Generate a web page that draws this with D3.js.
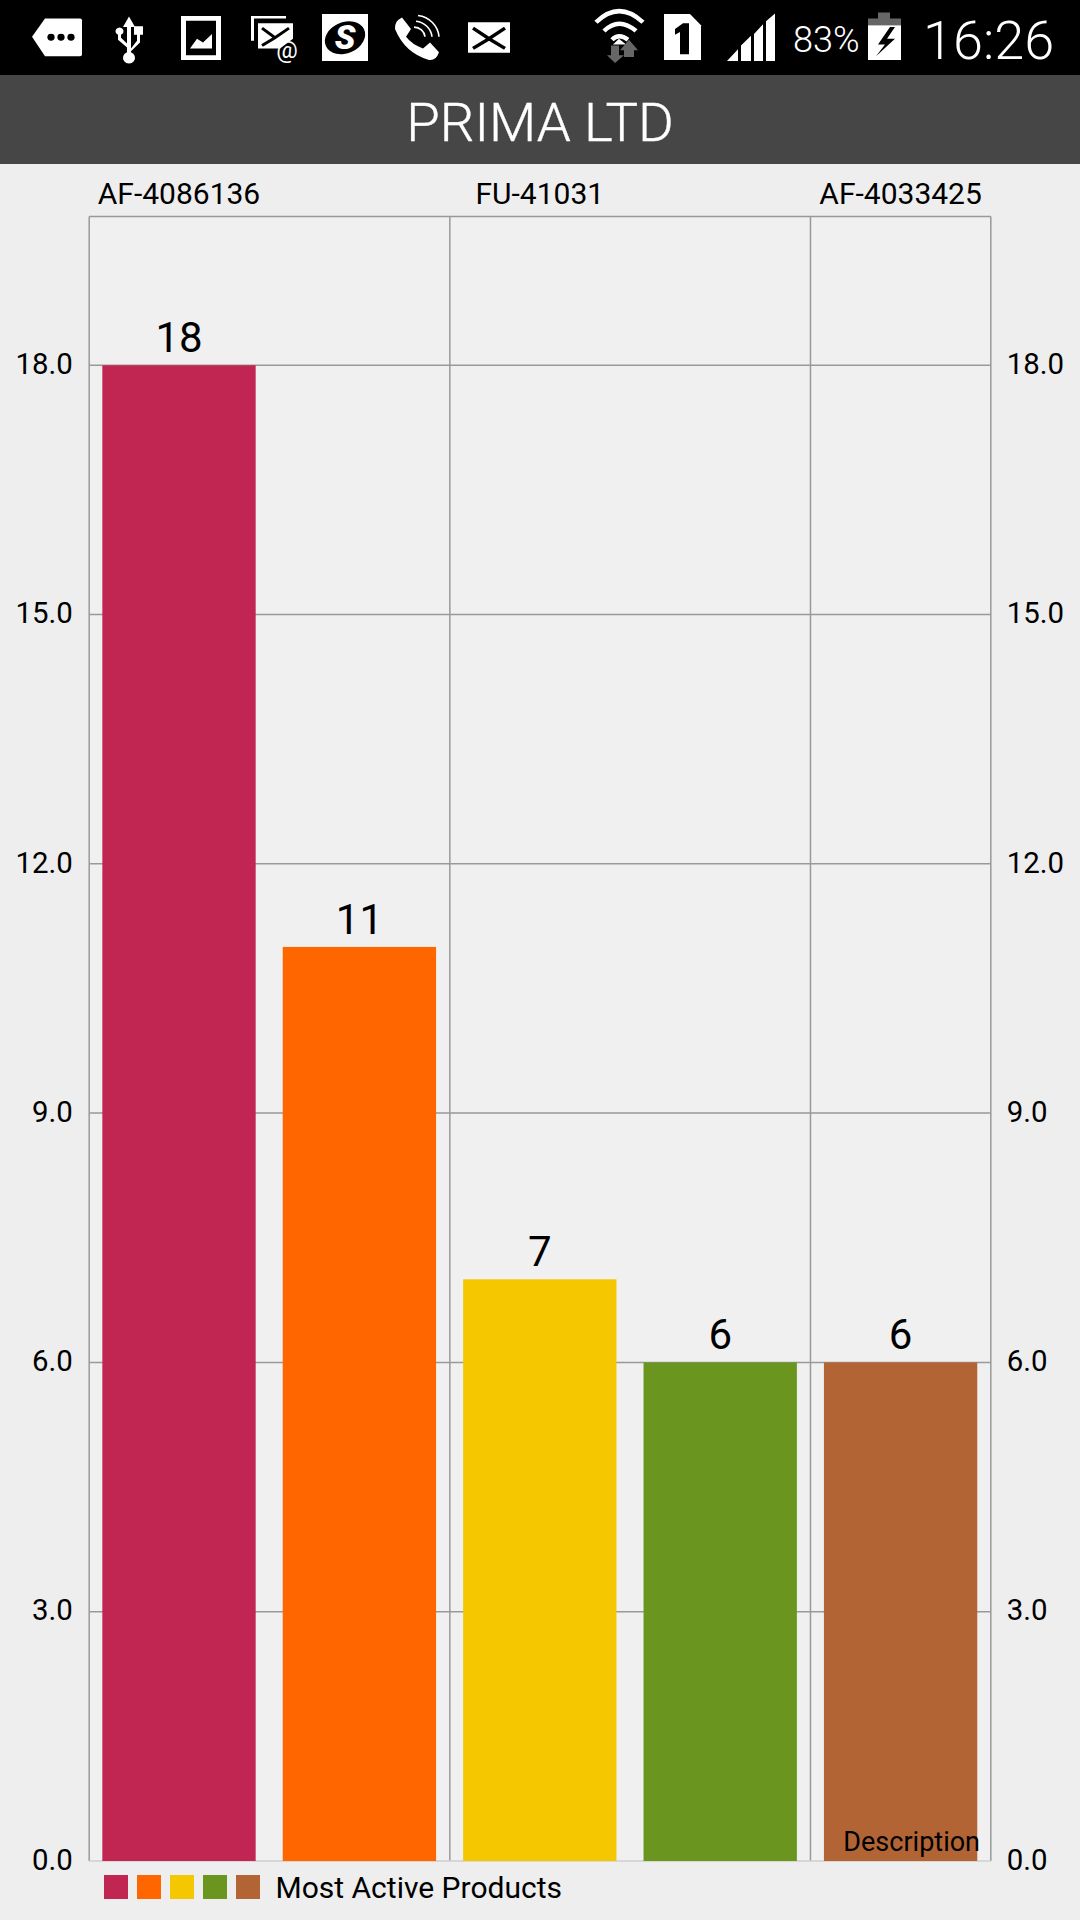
<!DOCTYPE html>
<html><head><meta charset="utf-8">
<script src="https://cdn.jsdelivr.net/npm/d3@7"></script>
<style>
html,body{margin:0;padding:0;background:#eeeeee}
svg{display:block}
text{font-family:Roboto,sans-serif}
</style></head><body>
<svg id="c" width="1080" height="1920"></svg>
<script>
const categories = ["AF-4086136", "item 2", "FU-41031", "item 4", "AF-4033425"];
const shownLabels = ["AF-4086136", "FU-41031", "AF-4033425"];
const values = [18, 11, 7, 6, 6];
const colors = ["#c12552", "#ff6600", "#f5c700", "#6a961f", "#b36435"];
const yTicks = [0, 3, 6, 9, 12, 15, 18];
const title = "PRIMA LTD";
const legendLabel = "Most Active Products";
const descriptionLabel = "Description";

const svg = d3.select("#c");
const plot = {l: 89.2, r: 990.8, t: 216.5, b: 1861};
const x = d3.scaleBand().domain(categories).range([plot.l - 0.4, plot.r]).paddingInner(0.15).paddingOuter(0.075);
const y = d3.scaleLinear().domain([0, 19.79]).range([plot.b, plot.t]);
const step = (plot.r - plot.l) / categories.length;
const cellEdge = c => plot.l + categories.indexOf(c) * step;

svg.append("rect").attr("width", 1080).attr("height", 1920).attr("fill", "#eeeeee");
svg.append("rect").attr("x", plot.l).attr("y", plot.t).attr("width", plot.r - plot.l).attr("height", plot.b - plot.t).attr("fill", "#f0f0f0");

// status bar
svg.append("rect").attr("width", 1080).attr("height", 75).attr("fill", "#000");
svg.append("rect").attr("y", 75).attr("width", 1080).attr("height", 89).attr("fill", "#464646");
svg.append("text").attr("x", 540).attr("y", 140.7).attr("text-anchor", "middle").attr("font-size", 54.5).attr("font-weight", 300).attr("fill", "#fff").attr("stroke", "#fff").attr("stroke-width", 0.4).text(title);

const icons = svg.append("g").attr("class", "status").attr("transform", "scale(1,0.968)");
const P = (d, fill = "#fff", extra = {}) => { const p = icons.append("path").attr("d", d).attr("fill", fill); Object.entries(extra).forEach(([k, v]) => p.attr(k, v)); return p; };
// tag
P("M45 19H80Q82 19 82 21V56Q82 58 80 58H45L32 38Z");
[51, 61, 71].forEach(cx => icons.append("circle").attr("cx", cx).attr("cy", 38.5).attr("r", 3.6).attr("fill", "#000"));
// usb
P("M129 17L135 28H131V50L137 42V36H134V27H143V36H140V44L131 53V54A6 6 0 1 1 127 54V49L118 41V36A4 4 0 1 1 121 36V39L127 45V28H123Z");
// image
P("M181 16.5H221V62H181ZM186 21.5V57H216V21.5Z", "#fff", {"fill-rule": "evenodd"});
P("M190 50L197 40L203 44L212 35V50Z");
// stacked mail
P("M251 16.5H286V19H254V42H251Z");
P("M258 24H293V40L280 50H258Z");
P("M262 29L275 39L289 29M262 47L275 39", "none", {stroke: "#000", "stroke-width": 3});
icons.append("text").attr("x", 287).attr("y", 60).attr("text-anchor", "middle").attr("font-size", 24).attr("fill", "#fff").text("@");
// S box
P("M322 14.5H368V63H322Z");
icons.append("ellipse").attr("cx", 345).attr("cy", 39).attr("rx", 21).attr("ry", 16).attr("transform", "rotate(-25 345 39)").attr("fill", "#000");
icons.append("text").attr("x", 345).attr("y", 51).attr("text-anchor", "middle").attr("font-size", 34).attr("font-weight", 900).attr("font-style", "italic").attr("fill", "#fff").text("S");
// phone
P("M402 18L411 30L406 38Q412 46 423 50L430 44L439 54Q436 63 429 62Q405 55 395 30Q394 22 402 18Z");
P("M416 22A18 18 0 0 1 432 38M418 16A24 24 0 0 1 439 38M414 28A11 11 0 0 1 425 38", "none", {stroke: "#fff", "stroke-width": 1.6});
// envelope
P("M468 23H510V54.5H468Z");
P("M473 29L489 40L505 29M473 50L489 40L505 50", "none", {stroke: "#000", "stroke-width": 3.5});
// wifi
P("M596 23Q619 0 643 23M604 32Q619 17 636 32M612 41Q619 34 628 41", "none", {stroke: "#fff", "stroke-width": 4.5});
P("M619 40L626 46H613Z");
P("M611 47H619V57H624L615 65L607 57H611Z", "#666");
P("M624 52V59H634V52H638L629 41L620 52Z", "#666");
// sim
P("M664 14.5H690L701 26V62H664Z");
P("M675 30L683 24H689V56H680V33L675 36Z", "#000");
// signal
P("M727 63L738 51V63Z");
P("M741 47L751 37V63H741Z");
P("M754 35L763 25V63H754Z");
P("M766 22L775 14V63H766Z");
// battery
P("M878 13H890V19H901V26H868V19H878Z", "#666");
P("M868 26H901V62H868Z", "#fff");
P("M890 28L878 46H885L876 58L895 40H887L895 28Z", "#000");
svg.append("text").attr("x", 793).attr("y", 52).attr("font-size", 36).attr("font-weight", 300).attr("fill", "#fff").text("83%");
svg.append("text").attr("x", 923).attr("y", 58.5).attr("font-size", 54).attr("font-weight", 300).attr("fill", "#fff").text("16:26");

// grid
const gridColor = "#999999";
svg.append("g").selectAll("line").data(yTicks.filter(t => t > 0)).join("line")
  .attr("x1", plot.l).attr("x2", plot.r).attr("y1", d => y(d)).attr("y2", d => y(d))
  .attr("stroke", gridColor).attr("stroke-width", 1.5);
svg.append("g").selectAll("line").data(categories.filter(c => shownLabels.includes(c))).join("line")
  .attr("x1", d => cellEdge(d)).attr("x2", d => cellEdge(d)).attr("y1", plot.t).attr("y2", plot.b)
  .attr("stroke", gridColor).attr("stroke-width", 1.5);
svg.append("line").attr("x1", plot.l).attr("x2", plot.r).attr("y1", plot.t).attr("y2", plot.t).attr("stroke", gridColor).attr("stroke-width", 1.5);
svg.append("line").attr("x1", plot.r).attr("x2", plot.r).attr("y1", plot.t).attr("y2", plot.b).attr("stroke", gridColor).attr("stroke-width", 1.5);
svg.append("line").attr("x1", plot.l).attr("x2", plot.r).attr("y1", plot.b).attr("y2", plot.b).attr("stroke", "#cfcfcf").attr("stroke-width", 1.5);

// bars
svg.append("g").selectAll("rect").data(values).join("rect")
  .attr("x", (d, i) => x(categories[i])).attr("width", x.bandwidth())
  .attr("y", d => y(d)).attr("height", d => y(0) - y(d))
  .attr("fill", (d, i) => colors[i]);

// value labels
svg.append("g").selectAll("text").data(values).join("text")
  .attr("x", (d, i) => x(categories[i]) + x.bandwidth() / 2).attr("y", d => y(d) - 13)
  .attr("text-anchor", "middle").attr("font-size", 42).attr("fill", "#000").text(d => d);

// axes
function styleAxis(g, size) {
  g.select(".domain").remove();
  g.selectAll(".tick line").remove();
  g.selectAll("text").attr("font-family", "Roboto,sans-serif").attr("font-size", size).attr("fill", "#000");
}
svg.append("g").attr("transform", `translate(${plot.l},0)`)
  .call(d3.axisLeft(y).tickValues(yTicks).tickSize(0).tickPadding(16.5).tickFormat(d3.format(".1f")))
  .call(styleAxis, 29.4).selectAll("text").attr("dy", "0.28em");
svg.append("g").attr("transform", `translate(${plot.r},0)`)
  .call(d3.axisRight(y).tickValues(yTicks).tickSize(0).tickPadding(16).tickFormat(d3.format(".1f")))
  .call(styleAxis, 29.4).selectAll("text").attr("dy", "0.28em");
svg.append("g").attr("transform", "translate(0,203.5)")
  .call(d3.axisTop(x).tickValues(shownLabels).tickSize(0).tickPadding(0))
  .call(styleAxis, 30).selectAll("text").attr("dy", 0);

// description
svg.append("text").attr("x", 980).attr("y", 1851).attr("text-anchor", "end").attr("font-size", 27).attr("fill", "#000").text(descriptionLabel);

// legend
const lx = d3.scalePoint().domain(d3.range(colors.length)).range([104, 236]);
svg.append("g").selectAll("rect").data(colors).join("rect")
  .attr("x", (d, i) => lx(i)).attr("y", 1875).attr("width", 24).attr("height", 24).attr("fill", d => d);
svg.append("text").attr("x", 275.5).attr("y", 1898).attr("font-size", 30).attr("fill", "#000").text(legendLabel);
</script>
</body></html>
